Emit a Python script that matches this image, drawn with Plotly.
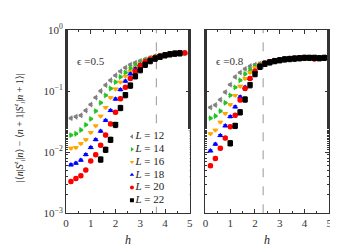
import plotly.graph_objects as go

# ---------------- data ----------------
h = [0.2, 0.4, 0.6, 0.8, 1.0, 1.2, 1.4, 1.6, 1.8, 2.0, 2.2, 2.4,
     2.6, 2.8, 3.0, 3.2, 3.4, 3.6, 3.8, 4.0, 4.2, 4.4, 4.6, 4.8]
sizes = [12, 14, 16, 18, 20, 22]
colors = ["#808080", "#22c322", "#ffa500", "#0000ff", "#ff0000", "#000000"]
symbols = ["triangle-left", "triangle-right", "triangle-down", "triangle-up", "circle", "square"]
err_pct = [3, 3, 3, 4, 6, 10]

N = None
# epsilon = 0.5
eps05_L12 = [0.036, 0.038, 0.040, 0.048, 0.060, 0.078, 0.100, 0.125, 0.150, 0.180, 0.210, 0.240,
             0.270, 0.290, 0.310, 0.330, 0.350, 0.370, 0.380, 0.390, 0.400, 0.410, 0.420, 0.420]
eps05_L14 = [0.019, 0.020, 0.023, 0.028, 0.035, 0.047, 0.064, 0.085, 0.110, 0.140, 0.170, 0.200,
             0.235, 0.265, 0.295, 0.320, 0.340, 0.360, 0.380, 0.390, 0.400, 0.410, 0.420, 0.420]
eps05_L16 = [0.0116, 0.0119, 0.0138, 0.016, 0.021, 0.027, 0.039, 0.054, 0.078, 0.108, 0.140, 0.175,
             0.210, 0.245, 0.280, 0.310, 0.335, 0.355, 0.375, 0.390, 0.400, 0.410, 0.420, 0.420]
eps05_L18 = [0.0062, 0.0066, 0.0074, 0.0091, 0.0119, 0.016, 0.022, 0.033, 0.048, 0.074, 0.105, 0.145,
             0.190, 0.230, 0.270, 0.300, 0.330, 0.350, 0.370, 0.390, 0.400, 0.410, 0.420, 0.420]
eps05_L20 = [0.0033, 0.0037, 0.0041, 0.0051, 0.0072, 0.0091, 0.013, 0.019, 0.029, 0.045, 0.075, 0.115,
             0.160, 0.210, 0.260, 0.300, 0.330, 0.355, 0.375, 0.390, 0.400, 0.410, 0.420, 0.420]
eps05_L22 = [N, N, N, N, N, N, 0.0076, 0.011, 0.016, 0.028, 0.053, 0.086,
             0.123, 0.175, 0.220, 0.270, 0.310, 0.340, 0.365, 0.385, 0.400, 0.410, 0.415, N]

# epsilon = 0.8
eps08_L12 = [0.054, 0.059, 0.072, 0.096, 0.127, 0.170, 0.200, 0.230, 0.255, 0.270, 0.280, 0.290,
             0.300, 0.310, 0.320, 0.330, 0.335, 0.340, 0.345, 0.350, 0.350, 0.350, 0.345, 0.350]
eps08_L14 = [0.036, 0.039, 0.047, 0.064, 0.085, 0.115, 0.150, 0.190, 0.225, 0.250, 0.275, 0.290,
             0.300, 0.310, 0.320, 0.330, 0.335, 0.340, 0.345, 0.350, 0.350, 0.345, 0.350, 0.350]
eps08_L16 = [0.020, 0.023, 0.031, 0.043, 0.060, 0.085, 0.120, 0.160, 0.200, 0.240, 0.270, 0.290,
             0.300, 0.310, 0.320, 0.330, 0.335, 0.340, 0.345, 0.350, 0.350, 0.350, 0.350, 0.350]
eps08_L18 = [0.0105, 0.0135, 0.0187, 0.027, 0.038, 0.055, 0.080, 0.115, 0.160, 0.210, 0.255, 0.285,
             0.300, 0.310, 0.320, 0.330, 0.335, 0.340, 0.345, 0.350, 0.345, 0.350, 0.340, 0.350]
eps08_L20 = [0.0060, 0.0079, 0.0116, 0.017, 0.026, 0.040, 0.071, 0.110, 0.160, 0.210, 0.260, 0.285,
             0.300, 0.310, 0.320, 0.330, 0.340, 0.345, 0.350, 0.355, 0.350, 0.335, 0.345, 0.350]
eps08_L22 = [N, N, N, N, 0.014, 0.027, 0.045, 0.073, 0.125, 0.190, 0.250, 0.280,
             0.295, 0.310, 0.320, 0.330, 0.335, 0.340, 0.345, 0.350, 0.350, 0.350, 0.345, 0.350]

panels = [
    {"eps": "ϵ =0.5", "hc": 3.65, "series": [eps05_L12, eps05_L14, eps05_L16, eps05_L18, eps05_L20, eps05_L22]},
    {"eps": "ϵ =0.8", "hc": 2.33, "series": [eps08_L12, eps08_L14, eps08_L16, eps08_L18, eps08_L20, eps08_L22]},
]

xticks = [0, 1, 2, 3, 4, 5]
ytick_vals = [0.001, 0.01, 0.1, 1]
ytick_text = ["10<sup>−3</sup>", "10<sup>−2</sup>", "10<sup>−1</sup>", "10<sup>0</sup>"]

# ---------------- figure ----------------
FONT = "Liberation Serif, DejaVu Serif, serif"
W, H = 338, 250
fig = go.Figure()

x_domains = [[56 / W, 182 / W], [198 / W, 324 / W]]
y_domain = [1 - 209 / H, 1 - 14.7 / H]

for p, panel in enumerate(panels):
    xa = "x" if p == 0 else "x2"
    ya = "y" if p == 0 else "y2"
    for i, vals in enumerate(panel["series"]):
        fig.add_trace(go.Scatter(
            x=h, y=vals, mode="markers", xaxis=xa, yaxis=ya, showlegend=False,
            marker=dict(symbol=symbols[i], color=colors[i], size=5.5, line=dict(width=0)),
            error_y=dict(type="percent", value=err_pct[i], color=colors[i], thickness=1, width=2),
        ))
    fig.add_shape(type="line", xref=xa, yref="paper", x0=panel["hc"], x1=panel["hc"],
                  y0=y_domain[0], y1=y_domain[1],
                  line=dict(color="#999999", width=1, dash="dash"), layer="below")
    fig.add_annotation(text=panel["eps"], xref="paper", yref="paper",
                       x=x_domains[p][0] + 9 / W, y=1 - 48 / H, xanchor="left", yanchor="middle",
                       showarrow=False, font=dict(family=FONT, size=11, color="#333"))
    fig.add_annotation(text="<i>h</i>", xref="paper", yref="paper",
                       x=(x_domains[p][0] + x_domains[p][1]) / 2, y=1 - 237 / H,
                       xanchor="center", yanchor="middle", showarrow=False,
                       font=dict(family=FONT, size=12, color="#222"))

# manual compact legend on a hidden axis
fig.add_trace(go.Scatter(
    x=[0.08] * len(sizes), y=list(range(len(sizes))), mode="markers+text",
    xaxis="x3", yaxis="y3", showlegend=False, hoverinfo="skip",
    marker=dict(symbol=symbols, color=colors, size=4),
    text=[f"<i>L</i> = {s}" for s in sizes], textposition="middle right",
    textfont=dict(family=FONT, size=11, color="#222"),
))

axis_common = dict(
    showline=True, linecolor="#333", linewidth=1, mirror="allticks",
    ticks="inside", ticklen=4, tickcolor="#333", showgrid=False, zeroline=False,
    tickfont=dict(family=FONT, size=11, color="#333"),
)

fig.update_layout(
    width=W, height=H, margin=dict(l=0, r=0, t=0, b=0),
    paper_bgcolor="white", plot_bgcolor="white",
    xaxis=dict(domain=x_domains[0], range=[0, 5], tickvals=xticks, anchor="y",
               minor=dict(ticks="inside", ticklen=2, dtick=0.5, tickcolor="#333"), **axis_common),
    xaxis2=dict(domain=x_domains[1], range=[0, 5], tickvals=xticks, anchor="y2",
                minor=dict(ticks="inside", ticklen=2, dtick=0.5, tickcolor="#333"), **axis_common),
    yaxis=dict(domain=y_domain, type="log", range=[-3, 0], anchor="x",
               tickvals=ytick_vals, ticktext=ytick_text,
               minor=dict(ticks="inside", ticklen=2, tickcolor="#333"), **axis_common),
    yaxis2=dict(domain=y_domain, type="log", range=[-3, 0], anchor="x2",
                tickvals=ytick_vals, showticklabels=False,
                minor=dict(ticks="inside", ticklen=2, tickcolor="#333"), **axis_common),
    xaxis3=dict(domain=[118 / W, 182 / W], range=[0, 1], visible=False, anchor="y3", fixedrange=True),
    yaxis3=dict(domain=[1 - 202 / H, 1 - 121 / H], range=[5.5, -0.5], visible=False, anchor="x3", fixedrange=True),
)

fig.add_annotation(
    text="|⟨<i>n</i>|<i>S</i><sup><i>z</i></sup><sub><i>i</i></sub>|<i>n</i>⟩ − ⟨<i>n</i> + 1|<i>S</i><sup><i>z</i></sup><sub><i>i</i></sub>|<i>n</i> + 1⟩|",
    xref="paper", yref="paper", x=9 / W, y=1 - 118 / H, textangle=-90,
    xanchor="center", yanchor="middle", showarrow=False,
    font=dict(family=FONT, size=10, color="#222"))

fig.write_html("out.html")
